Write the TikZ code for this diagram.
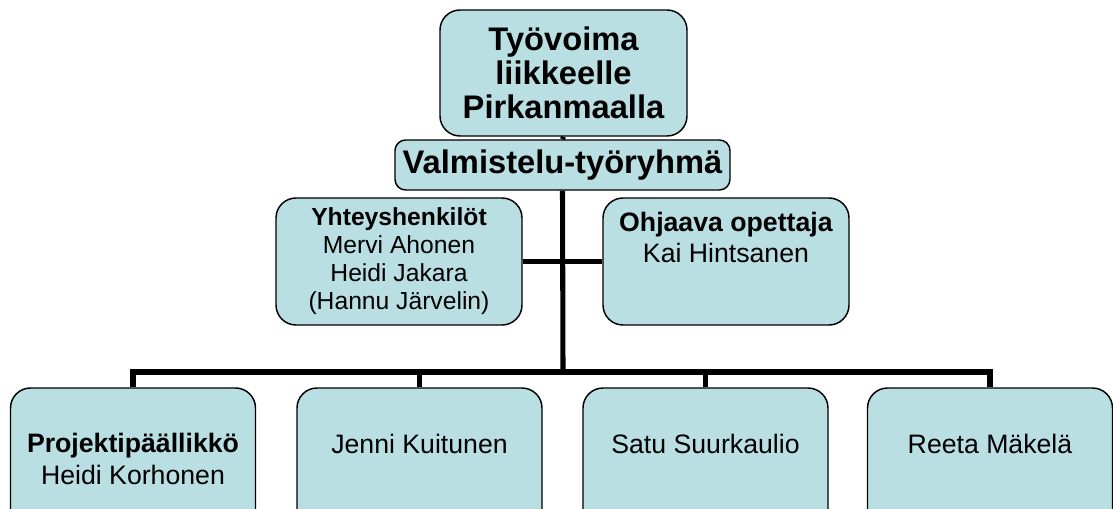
\documentclass[tikz,border=0pt]{standalone}
\usepackage{fontspec}
\setmainfont{Liberation Sans}
\usepackage{tikz}
\usetikzlibrary{backgrounds}
\definecolor{boxfill}{RGB}{185,223,227}

\begin{document}
\begin{tikzpicture}[x=0.75pt, y=-0.75pt,
  box/.style={draw=black, line width=1.1pt, fill=boxfill, rounded corners=15pt, align=center, inner sep=0pt},
  bigtext/.style={font=\fontsize{24.5}{25.5}\selectfont\bfseries},
  midtext/.style={font=\fontsize{18.5}{21}\selectfont},
  lowtext/.style={font=\fontsize{20}{23.5}\selectfont},
  conn/.style={line width=3.8pt, black}]
\useasboundingbox (0,0) rectangle (1113,508);
% Draw top boxes
\node[box, bigtext, minimum width=185.25pt, minimum height=94.5pt] (title) at (563.5,73) {Työvoima\\liikkeelle\\Pirkanmaalla};
\node[box, bigtext, rounded corners=8pt, minimum width=251.25pt, minimum height=37.5pt] (valm) at (562.5,165) {Valmistelu-työryhmä};
% Draw middle boxes
\node[box, midtext, minimum width=184.5pt, minimum height=95.25pt] (yht) at (399,261.5) {\textbf{Yhteyshenkilöt}\\Mervi Ahonen\\Heidi Jakara\\(Hannu Järvelin)};
\node[box, lowtext, minimum width=184.5pt, minimum height=95.25pt] (ohj) at (726,261.5) {\textbf{Ohjaava opettaja}\\Kai Hintsanen\\[13pt]~};
% Draw bottom boxes
\node[box, lowtext, minimum width=183.75pt, minimum height=106.5pt] (p1) at (133,459) {\textbf{Projektipäällikkö}\\Heidi Korhonen};
\node[box, lowtext, minimum width=183.75pt, minimum height=106.5pt] (p2) at (419.5,459) {Jenni Kuitunen\\~};
\node[box, lowtext, minimum width=183.75pt, minimum height=106.5pt] (p3) at (705.5,459) {Satu Suurkaulio\\~};
\node[box, lowtext, minimum width=183.75pt, minimum height=106.5pt] (p4) at (990,459) {Reeta Mäkelä\\~};
% Draw connectors
\coordinate (bus) at (563,372);
\begin{scope}[on background layer]
\draw[conn] (title.south) -- (valm.north);
\draw[conn] (valm.south) -- (bus);
\draw[conn] (yht.east) -- (ohj.west);
\draw[conn] (p1.north) |- (bus) -| (p4.north);
\draw[conn] (p2.north) |- (bus);
\draw[conn] (p3.north) |- (bus);
\end{scope}
\end{tikzpicture}
\end{document}
